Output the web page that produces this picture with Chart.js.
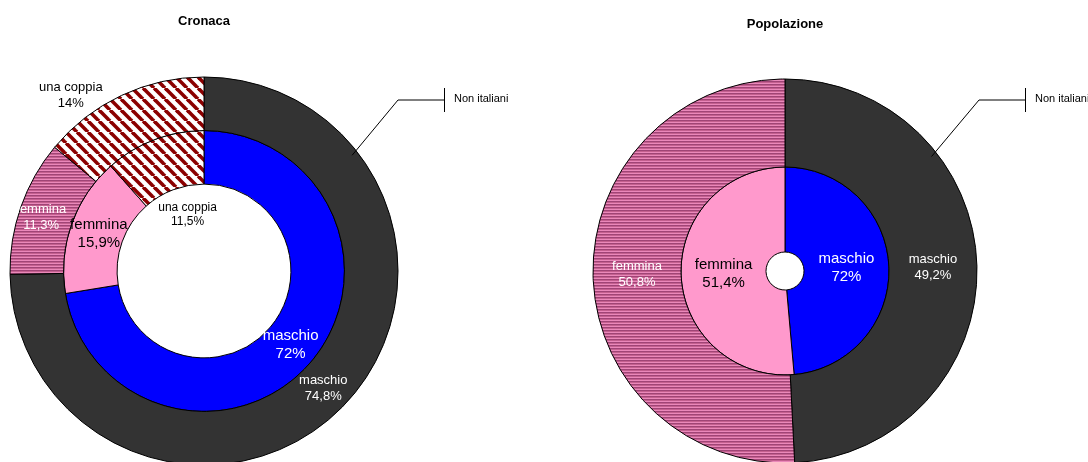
<!DOCTYPE html>
<html>
<head>
<meta charset="utf-8">
<script src="https://cdn.jsdelivr.net/npm/chart.js@4.4.1/dist/chart.umd.min.js"></script>
<style>
  html, body { margin: 0; padding: 0; background: #fff; }
  #wrap { position: relative; width: 1088px; height: 462px; overflow: hidden; }
  .box { position: absolute; top: 0; width: 544px; height: 462px; }
</style>
</head>
<body>
<div id="wrap">
  <div class="box" style="left:0"><canvas id="chartCronaca" width="544" height="462"></canvas></div>
  <div class="box" style="left:544px"><canvas id="chartPopolazione" width="544" height="462"></canvas></div>
</div>
<script>
// dati
const categorieCronaca = ["maschio", "femmina", "una coppia"];
const cronacaNonItaliani = [74.8, 11.3, 14];
const cronacaItaliani = [72, 15.9, 11.5];

const categoriePopolazione = ["maschio", "femmina"];
const popNonItaliani = [49.2, 50.8];
const popItaliani = [48.6, 51.4];
// etichetta originale del grafico (dice 72% anche se la fetta è ~48,6%)
const popItalianiEtichette = ["72%", "51,4%"];

const perc = v => String(v).replace(".", ",") + "%";

const FONT = "Arial, 'Liberation Sans', sans-serif";

// trame
function righeOrizzontali() {
  const c = document.createElement("canvas");
  c.width = 4; c.height = 3;
  const x = c.getContext("2d");
  x.fillStyle = "#a04476";
  x.fillRect(0, 0, 4, 1);
  x.fillStyle = "#c4608f";
  x.fillRect(0, 1, 4, 1);
  x.fillStyle = "#ea88ba";
  x.fillRect(0, 2, 4, 1);
  return x.createPattern(c, "repeat");
}
function righeDiagonali() {
  const s = 11;
  const c = document.createElement("canvas");
  c.width = s; c.height = s;
  const x = c.getContext("2d");
  x.fillStyle = "#ffffff";
  x.fillRect(0, 0, s, s);
  x.strokeStyle = "#8b0000";
  x.lineWidth = 3.6;
  for (const o of [-s, 0, s]) {
    x.beginPath();
    x.moveTo(o, 0);
    x.lineTo(o + s, s);
    x.stroke();
  }
  return x.createPattern(c, "repeat");
}

const ROSA_RIGHE = righeOrizzontali();
const ROSSO_RIGHE = righeDiagonali();

// etichette, titolo e linea "Non italiani"
function decorazioni(titolo, titoloY) {
  return {
    id: "decorazioni",
    afterDatasetsDraw(chart) {
      const ctx = chart.ctx;
      ctx.save();
      chart.data.datasets.forEach((ds, i) => {
        const meta = chart.getDatasetMeta(i);
        meta.data.forEach((arc, j) => {
          const mid = (arc.startAngle + arc.endAngle) / 2;
          const r = (arc.innerRadius + arc.outerRadius) / 2;
          const off = (ds.spostamenti && ds.spostamenti[j]) || [0, 0];
          const x = arc.x + Math.cos(mid) * r + off[0];
          const y = arc.y + Math.sin(mid) * r + off[1];
          const size = Array.isArray(ds.dimensione) ? ds.dimensione[j] : ds.dimensione;
          ctx.font = size + "px " + FONT;
          ctx.fillStyle = ds.coloreTesto[j];
          ctx.textAlign = "center";
          ctx.textBaseline = "middle";
          const lh = size * 1.2;
          ctx.fillText(chart.data.labels[j], x, y - lh / 2);
          ctx.fillText(ds.etichette[j], x, y + lh / 2);
        });
      });

      // linea verso l'anello esterno
      const a = chart.getDatasetMeta(0).data[0];
      const ang = (-90 + 52) * Math.PI / 180;
      const r0 = a.outerRadius - 6;
      const sx = a.x + Math.cos(ang) * r0, sy = a.y + Math.sin(ang) * r0;
      const ex = a.x + 194, ey = a.y - 171;
      const tx = ex + 46;
      ctx.strokeStyle = "#000";
      ctx.lineWidth = 1;
      ctx.beginPath();
      ctx.moveTo(sx, sy);
      ctx.lineTo(ex, ey);
      ctx.lineTo(tx, ey);
      ctx.stroke();
      ctx.beginPath();
      ctx.moveTo(tx + 0.5, ey - 12);
      ctx.lineTo(tx + 0.5, ey + 12);
      ctx.stroke();
      ctx.fillStyle = "#000";
      ctx.font = "11px " + FONT;
      ctx.textAlign = "left";
      ctx.textBaseline = "middle";
      ctx.fillText("Non italiani", tx + 10, ey - 1);

      ctx.font = "bold 13px " + FONT;
      ctx.textAlign = "center";
      ctx.fillText(titolo, a.x, titoloY);
      ctx.restore();
    }
  };
}

function creaGrafico(id, labels, datasets, radius, cutout, padding, titolo, titoloY) {
  return new Chart(document.getElementById(id), {
    type: "doughnut",
    data: { labels: labels, datasets: datasets },
    options: {
      responsive: false,
      animation: false,
      events: [],
      radius: radius,
      cutout: cutout,
      layout: { padding: padding },
      plugins: {
        legend: { display: false },
        tooltip: { enabled: false },
      },
    },
    plugins: [decorazioni(titolo, titoloY)],
  });
}

creaGrafico("chartCronaca", categorieCronaca, [
  {
    label: "Non italiani",
    data: cronacaNonItaliani,
    backgroundColor: ["#333333", ROSA_RIGHE, ROSSO_RIGHE],
    borderColor: "#000",
    borderWidth: 1,
    weight: 1,
    etichette: cronacaNonItaliani.map(perc),
    coloreTesto: ["#fff", "#fff", "#000"],
    dimensione: 13,
    spostamenti: [[0, 0], [-5, 2], [-62, -24]],
  },
  {
    label: "Italiani",
    data: cronacaItaliani,
    backgroundColor: ["#0000ff", "#ff99cc", ROSSO_RIGHE],
    borderColor: "#000",
    borderWidth: 1,
    weight: 1,
    etichette: cronacaItaliani.map(perc),
    coloreTesto: ["#fff", "#000", "#000"],
    dimensione: [15, 15, 12],
    spostamenti: [[0, 0], [2, 1], [24, 50]],
  },
], 194, "44.8%", { left: 0, right: 136, top: 80, bottom: 0 }, "Cronaca", 21);

creaGrafico("chartPopolazione", categoriePopolazione, [
  {
    label: "Non italiani",
    data: popNonItaliani,
    backgroundColor: ["#333333", ROSA_RIGHE],
    borderColor: "#000",
    borderWidth: 1,
    weight: 88,
    etichette: popNonItaliani.map(perc),
    coloreTesto: ["#fff", "#fff"],
    dimensione: 13,
  },
  {
    label: "Italiani",
    data: popItaliani,
    backgroundColor: ["#0000ff", "#ff99cc"],
    borderColor: "#000",
    borderWidth: 1,
    weight: 85,
    etichette: popItalianiEtichette,
    coloreTesto: ["#fff", "#000"],
    dimensione: 15,
  },
], 192, "9.9%", { left: 0, right: 62, top: 80, bottom: 0 }, "Popolazione", 24);
</script>
</body>
</html>
